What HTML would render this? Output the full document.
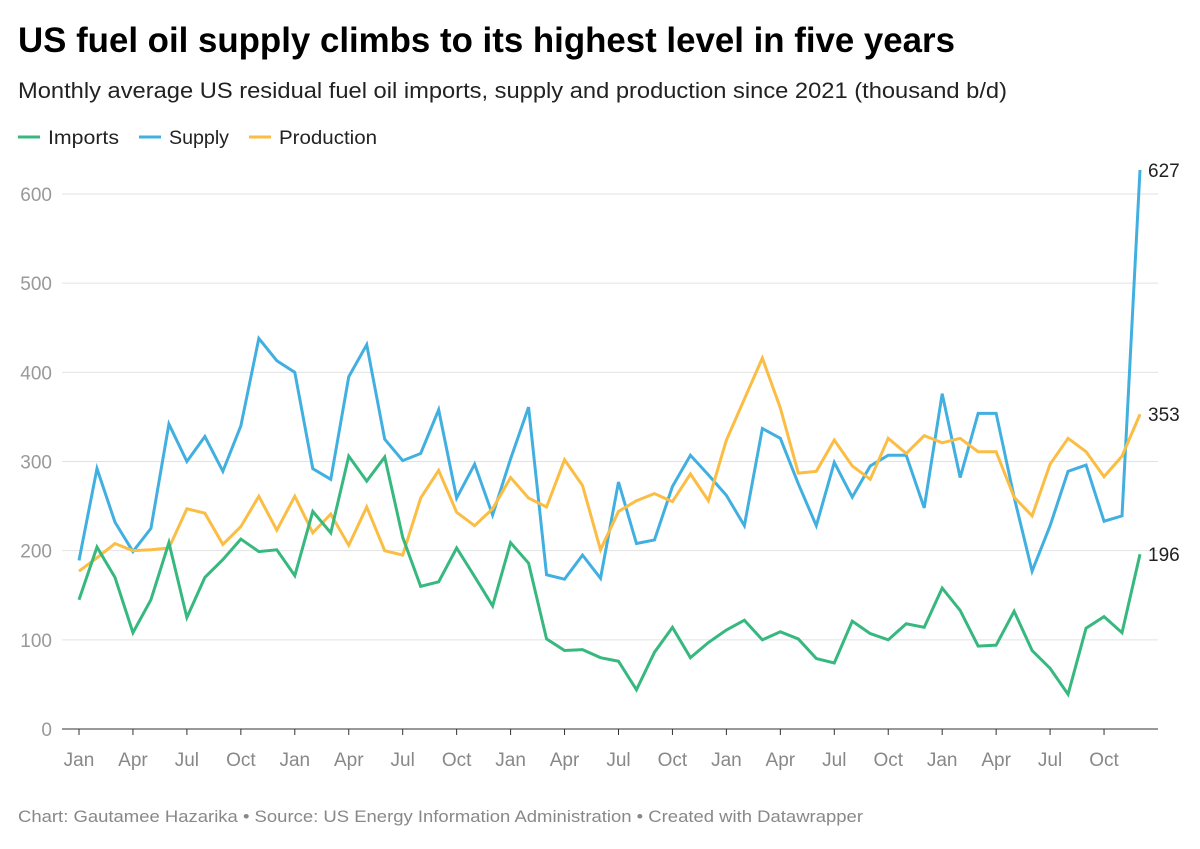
<!DOCTYPE html>
<html><head><meta charset="utf-8"><style>
body{margin:0;width:1200px;height:844px;background:#fff;font-family:"Liberation Sans",sans-serif;overflow:hidden}
</style></head><body>
<svg width="1200" height="844" xmlns="http://www.w3.org/2000/svg">
<text x="18" y="52" font-size="35" font-weight="bold" fill="#000" textLength="937" lengthAdjust="spacingAndGlyphs">US fuel oil supply climbs to its highest level in five years</text>
<text x="18" y="98" font-size="22" fill="#222" textLength="989" lengthAdjust="spacingAndGlyphs">Monthly average US residual fuel oil imports, supply and production since 2021 (thousand b/d)</text>
<g>
<g><line x1="18" y1="137" x2="40" y2="137" stroke="#36b87f" stroke-width="3"/><text x="48" y="144" font-size="19" fill="#222" textLength="71" lengthAdjust="spacingAndGlyphs">Imports</text></g>
<g><line x1="139" y1="137" x2="161" y2="137" stroke="#41b0e0" stroke-width="3"/><text x="169" y="144" font-size="19" fill="#222" textLength="60" lengthAdjust="spacingAndGlyphs">Supply</text></g>
<g><line x1="249" y1="137" x2="271" y2="137" stroke="#fbbd44" stroke-width="3"/><text x="279" y="144" font-size="19" fill="#222" textLength="98" lengthAdjust="spacingAndGlyphs">Production</text></g>
</g>
<g id="grid"></g>
<g id="xaxis"></g>
<g id="series"></g>
<text x="18" y="822" font-size="17" fill="#888" textLength="845" lengthAdjust="spacingAndGlyphs">Chart: Gautamee Hazarika • Source: US Energy Information Administration  • Created with Datawrapper</text>
</svg>
<script>
const tickValues=[0,100,200,300,400,500,600];
const xTickLabels=["Jan","Apr","Jul","Oct","Jan","Apr","Jul","Oct","Jan","Apr","Jul","Oct","Jan","Apr","Jul","Oct","Jan","Apr","Jul","Oct"];
const imports=[145,204,170,108,145,209,125,170,190,213,199,201,172,244,220,306,278,305,215,160,165,203,171,138,209,186,101,88,89,80,76,44,86,114,80,97,111,122,100,109,101,79,74,121,107,100,118,114,158,133,93,94,132,88,68,39,113,126,108,196];
const supply=[189,292,232,199,225,342,300,328,289,340,438,413,400,292,280,395,431,325,301,309,358,259,297,240,303,361,173,168,195,169,277,208,212,272,307,285,262,228,337,326,275,228,299,260,295,307,307,248,376,282,354,354,260,177,228,289,296,233,239,627];
const production=[177,192,208,200,201,203,247,242,207,227,261,223,261,220,241,206,249,200,195,259,290,243,228,247,282,259,249,302,273,201,244,256,264,255,286,256,324,370,416,360,287,289,324,295,280,326,309,329,321,326,311,311,260,239,297,326,311,283,306,353];
const NS="http://www.w3.org/2000/svg";
const x=i=>79+i*(1140-79)/59;
const y=v=>729-v*(729-194)/600;
function mk(t,a,p){const e=document.createElementNS(NS,t);for(const k in a)e.setAttribute(k,a[k]);p.appendChild(e);return e;}
const grid=document.getElementById('grid');
tickValues.forEach(v=>{
  if(v>0){const l=mk('line',{x1:62,x2:1158,y1:y(v),y2:y(v),stroke:'#e2e2e2','stroke-width':1},grid);
  
  }
  const t=mk('text',{x:52,y:y(v)+7,'font-size':19,fill:'#999','text-anchor':'end'},grid);t.textContent=v;
  
  
});
const xa=document.getElementById('xaxis');
const base=mk('line',{x1:62,x2:1158,y1:729,y2:729,stroke:'#333','stroke-width':1},xa);


xTickLabels.forEach((s,k)=>{
  const i=k*3;
  const tk=mk('line',{x1:x(i),x2:x(i),y1:729,y2:735,stroke:'#333','stroke-width':1},xa);
  
  
  const t=mk('text',{x:x(i),y:766,'font-size':19,fill:'#888','text-anchor':'middle'},xa);t.textContent=s;
  
  
});
const sg=document.getElementById('series');
[[supply,'#41b0e0','supply'],[production,'#fbbd44','production'],[imports,'#36b87f','imports']].forEach(([d,c,n])=>{
  const p=mk('polyline',{points:d.map((v,i)=>x(i)+','+y(v)).join(' '),fill:'none',stroke:c,'stroke-width':3,'stroke-linejoin':'miter'},sg);
  
  
  const last=d[d.length-1];
  const t=mk('text',{x:1148,y:y(last)+7,'font-size':19,fill:'#222'},sg);t.textContent=last;
  
  
});
</script>
</body></html>
